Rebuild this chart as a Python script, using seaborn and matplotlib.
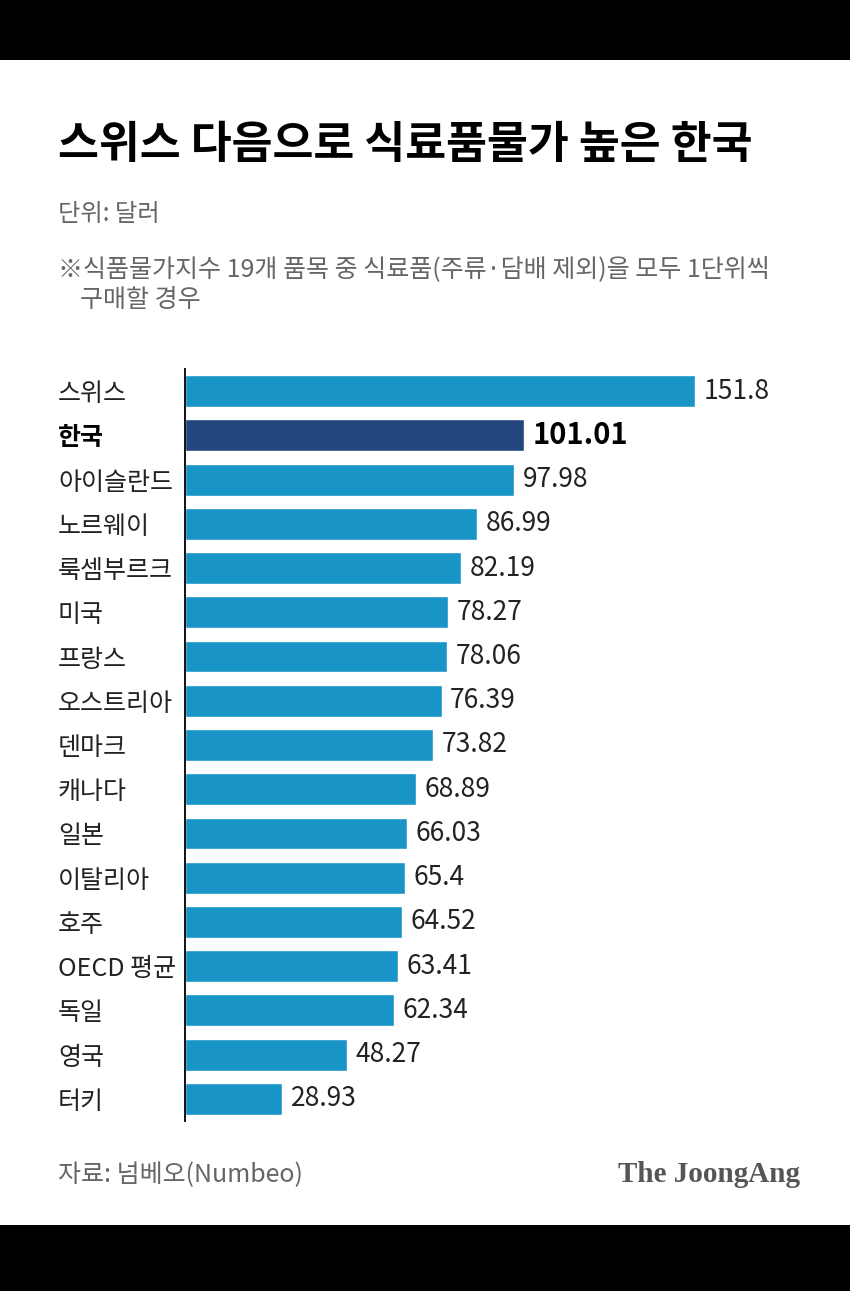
import pandas as pd
import seaborn as sns
from matplotlib import pyplot as plt
from matplotlib.patches import Rectangle

countries = ['스위스', '한국', '아이슬란드', '노르웨이', '룩셈부르크', '미국', '프랑스', '오스트리아',
             '덴마크', '캐나다', '일본', '이탈리아', '호주', 'OECD 평균', '독일', '영국', '터키']
prices = [151.8, 101.01, 97.98, 86.99, 82.19, 78.27, 78.06, 76.39,
          73.82, 68.89, 66.03, 65.4, 64.52, 63.41, 62.34, 48.27, 28.93]
value_labels = ['151.8', '101.01', '97.98', '86.99', '82.19', '78.27', '78.06', '76.39',
                '73.82', '68.89', '66.03', '65.4', '64.52', '63.41', '62.34', '48.27', '28.93']
highlight = '한국'

sns.set_style('white')
plt.rcParams['font.family'] = ['Noto Sans CJK KR', 'DejaVu Sans']

df = pd.DataFrame({'country': countries, 'price': prices})
blue, navy = '#1895c6', '#23467f'
pal = {c: (navy if c == highlight else blue) for c in countries}

W, H = 850, 1291
fig = plt.figure(figsize=(W / 100, H / 100), dpi=100, facecolor='black')
fig.patches.append(Rectangle((0, 66 / H), 1, 1165 / H, transform=fig.transFigure,
                             facecolor='white', edgecolor='none', zorder=-10))

ax = fig.add_axes([185 / W, 1 - 1121 / H, 615 / W, 752 / H])
ax.set_facecolor('none')
sns.barplot(data=df, x='price', y='country', hue='country', palette=pal, legend=False,
            saturation=1, width=0.72, orient='h', ax=ax)
ax.set_xlim(0, 615 / 3.36)
ax.set_ylim(16.5, -0.5)
ax.set_xlabel('')
ax.set_ylabel('')
ax.set_xticks([])
for s in ['top', 'right', 'bottom']:
    ax.spines[s].set_visible(False)
ax.spines['left'].set_color('#111111')
ax.spines['left'].set_linewidth(1.4)

ax.tick_params(axis='y', length=0, pad=(185 - 58) * 0.72)
for lab in ax.get_yticklabels():
    lab.set_horizontalalignment('left')
    lab.set_fontsize(18)
    lab.set_color('#222222')
    if lab.get_text() == highlight:
        lab.set_fontweight('bold')
        lab.set_color('black')

for i, (v, t) in enumerate(zip(prices, value_labels)):
    bold = countries[i] == highlight
    ax.annotate(t, (v, i), xytext=(6, 0), textcoords='offset points', va='center',
                ha='left', fontsize=21 if bold else 19, color='black' if bold else '#222222',
                fontweight='bold' if bold else 'normal')

fig.text(58 / W, 1 - 145 / H, '스위스 다음으로 식료품물가 높은 한국', fontsize=32,
         fontweight='heavy', color='black', va='center', ha='left')
fig.text(58 / W, 1 - 214 / H, '단위: 달러', fontsize=17.5, color='#666666', va='center')
fig.text(58 / W, 1 - 269 / H, '※식품물가지수 19개 품목 중 식료품(주류·담배 제외)을 모두 1단위씩',
         fontsize=18, color='#666666', va='center')
fig.text(80 / W, 1 - 300 / H, '구매할 경우', fontsize=18, color='#666666', va='center')
fig.text(58 / W, 1 - 1175 / H, '자료: 넘베오(Numbeo)', fontsize=18, color='#666666', va='center')
fig.text(800 / W, 1 - 1175 / H, 'The JoongAng', fontsize=21, fontweight='bold',
         family='Liberation Serif', color='#555555', va='center', ha='right')

fig.savefig('out.png', dpi=100, facecolor=fig.get_facecolor())
